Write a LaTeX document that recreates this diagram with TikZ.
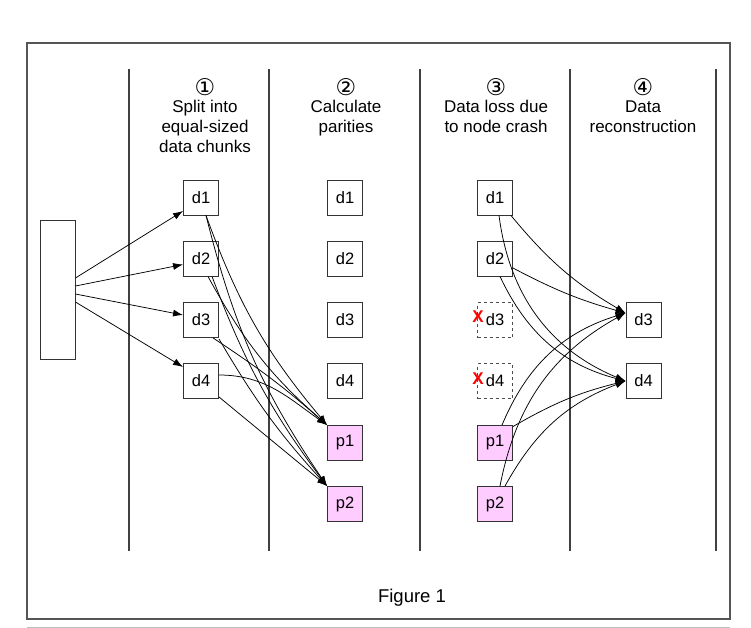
\documentclass[tikz,border=0pt]{standalone}
\usepackage{fontspec}
\setmainfont{Liberation Sans}
\newfontfamily\dejavu{DejaVu Sans}
\usetikzlibrary{arrows.meta,calc}
\definecolor{pinkfill}{RGB}{255,204,255}
\definecolor{framegray}{RGB}{85,85,85}
\begin{document}
\begin{tikzpicture}[x=1pt,y=-1pt,
  box/.style={draw=black!80, line width=0.9pt, minimum width=35pt, minimum height=35pt, inner sep=0pt, font=\fontsize{16.5}{18}\selectfont},
  pbox/.style={box, fill=pinkfill},
  lost/.style={box, dashed, draw=black!70},
  head/.style={align=center, font=\fontsize{17}{20}\selectfont, anchor=north},
  num/.style={font=\dejavu\fontsize{23}{24}\selectfont, inner sep=0pt},
  conn/.style={line width=0.75pt, -{Latex[length=10pt,width=7pt]}},
  sep/.style={draw=black!75, line width=1.2pt},
  redx/.style={text=red, font=\fontsize{17}{17}\selectfont\bfseries, inner sep=0pt}]
\useasboundingbox (0,0) rectangle (751,628);
\draw[framegray, line width=1.3pt] (27,43) rectangle (730,619);
\draw[black!25, line width=1pt] (27,627) -- (730,627);
\foreach \x in {129,269,420,570,716} \draw[sep] (\x,69) -- (\x,551);

\node[num] (n1) at (205,87) {①};
\node[num] (n2) at (346,87) {②};
\node[num] (n3) at (496,87) {③};
\node[num] (n4) at (643,87) {④};
\node[head] (h1) at (205,97) {Split into\\equal-sized\\data chunks};
\node[head] (h2) at (346,97) {Calculate\\parities};
\node[head] (h3) at (496,97) {Data loss due\\to node crash};
\node[head] (h4) at (643,97) {Data\\reconstruction};
\node[font=\fontsize{18.5}{20}\selectfont] (cap) at (412,598) {Figure 1};

\node[draw=black!80, line width=0.9pt, minimum width=35pt, minimum height=139pt, inner sep=0pt] (src) at (57.5,289.5) {};

\node[box] (a1) at (201,197.5) {d1};
\node[box] (a2) at (201,258.5) {d2};
\node[box] (a3) at (201,320) {d3};
\node[box] (a4) at (201,381) {d4};

\node[box] (b1) at (345,197.5) {d1};
\node[box] (b2) at (345,258.5) {d2};
\node[box] (b3) at (345,320) {d3};
\node[box] (b4) at (345,381) {d4};
\node[pbox] (bp1) at (345,443) {p1};
\node[pbox] (bp2) at (345,504) {p2};

\node[box] (c1) at (495,197.5) {d1};
\node[box] (c2) at (495,258.5) {d2};
\node[lost] (c3) at (495,320) {d3};
\node[lost] (c4) at (495,381) {d4};
\node[redx] (x3) at ($(c3.west)+(1,-3)$) {X};
\node[redx] (x4) at ($(c4.west)+(1,-2)$) {X};
\node[pbox] (cp1) at (495,443) {p1};
\node[pbox] (cp2) at (495,504) {p2};

\node[box] (e3) at (643.5,320) {d3};
\node[box] (e4) at (643.5,381) {d4};

% split arrows
\draw[conn] ($(src.east)+(0,-11.5)$) -- ($(a1.west)+(0,13.5)$);
\draw[conn] ($(src.east)+(0,-3.5)$) -- ($(a2.west)+(0,6)$);
\draw[conn] ($(src.east)+(0,4.5)$) -- ($(a3.west)+(0,-5)$);
\draw[conn] ($(src.east)+(0,12.5)$) -- ($(a4.west)+(0,-14)$);

% parity calculation
\draw[conn] ($(a1.south)+(5,0)$) to[bend right=10] (bp1.north west);
\draw[conn] ($(a1.south)+(5,0)$) to[bend right=10] (bp2.north west);
\draw[conn] ($(a2.south)+(7,0)$) to[bend right=10] (bp1.north west);
\draw[conn] ($(a2.south)+(11,0)$) to[bend right=8] (bp2.north west);
\draw[conn] ($(a3.south)+(12,0)$) to[bend left=4] (bp1.north west);
\draw[conn] ($(a3.south)+(18,1)$) to[bend right=6] (bp2.north west);
\draw[conn] ($(a4.east)+(0,-6)$) to[out=0,in=145] (bp1.north west);
\draw[conn] ($(a4.south east)+(0,-2)$) -- (bp2.north west);

% reconstruction
\coordinate (t3) at ($(e3.west)+(0,-7)$);
\coordinate (t4) at (e4.west);
\draw[conn] ($(c1.south east)+(-2,0)$) to[bend right=10] (t3);
\draw[conn] ($(c1.south)+(4,0)$) to[bend right=30] (t4);
\draw[conn] ($(c2.east)+(0,9.5)$) to[bend right=6] (t3);
\draw[conn] ($(c2.south)+(5,0)$) to[bend right=25] (t4);
\draw[conn] ($(cp1.north)+(7,0)$) to[bend left=25] (t3);
\draw[conn] ($(cp1.north east)+(0,1.5)$) to[bend left=8] (t4);
\draw[conn] ($(cp2.north)+(5,0)$) to[bend left=25] (t3);
\draw[conn] ($(cp2.north)+(10,0)$) to[bend left=20] (t4);
\end{tikzpicture}
\end{document}
